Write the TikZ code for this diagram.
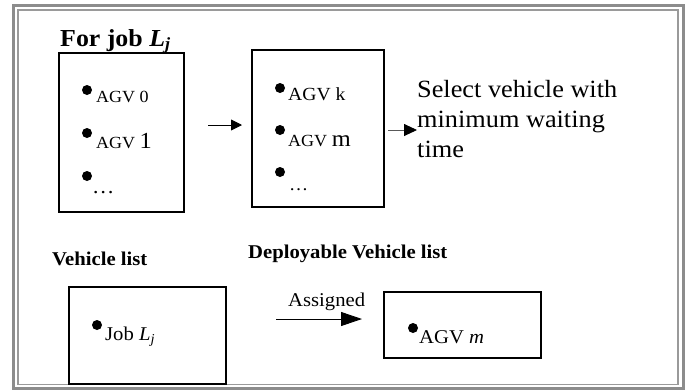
\documentclass[tikz,border=0pt]{standalone}
\usepackage{fontspec}
\setmainfont{Liberation Serif}[FakeStretch=1.06]
\usetikzlibrary{arrows.meta}
\definecolor{frameouter}{HTML}{8C8C8C}
\definecolor{frameinner}{HTML}{9A9A9A}
\tikzset{
  listbox/.style={draw=black, line width=2pt, inner sep=0pt, fill=none},
  txt/.style={inner sep=0pt, anchor=base west},
  head/.style={font=\fontsize{24.4}{27}\selectfont\bfseries},
  sub/.style={font=\fontsize{19.5}{21}\selectfont\bfseries},
  item/.style={font=\fontsize{17}{18}\selectfont},
  itemb/.style={font=\fontsize{19.5}{21}\selectfont},
  dot/.style={fill=black},
  arr/.style={line width=0.9pt, -{Triangle[length=11pt,width=11pt]}},
}
\begin{document}
\begin{tikzpicture}[x=1pt,y=-1pt]
\useasboundingbox (0,0) rectangle (690,389);
% frame
\draw[frameouter, line width=3pt] (13.5,5.5) rectangle (683.5,388);
\draw[frameinner, line width=1.8pt] (18.3,10.3) rectangle (677.7,384.5);
% boxes
\node[listbox, minimum width=125pt, minimum height=159pt] (b1) at (121.5,132.5) {};
\node[listbox, minimum width=132pt, minimum height=157pt] (b2) at (318,128.5) {};
\node[listbox, minimum width=157pt, minimum height=97pt] (b3) at (147.5,335.5) {};
\node[listbox, minimum width=157pt, minimum height=66pt] (b4) at (462.5,325) {};
% headings
\node[txt, head] (h1) at (60,46) {For job \textit{L\textsubscript{j}}};
\node[txt, sub] (h2) at (52,265) {Vehicle list};
\node[txt, sub] (h3) at (248,258) {Deployable Vehicle list};
% box 1 items
\fill[dot] (87,90) circle (5pt);
\node[txt, item] (i10) at (96,102) {AGV 0};
\fill[dot] (87,133) circle (5pt);
\node[txt, item] (i11) at (96,148) {AGV {\fontsize{23}{24}\selectfont 1}};
\fill[dot] (87,176) circle (5pt);
\node[txt, item, font=\fontsize{21}{24}\selectfont] (i12) at (92,193) {…};
% box 2 items
\fill[dot] (280,88) circle (5pt);
\node[txt, item, font=\fontsize{18.5}{20}\selectfont] (i20) at (288,100) {AGV k};
\fill[dot] (280,130) circle (5pt);
\node[txt, item] (i21) at (288,146) {AGV {\fontsize{23}{24}\selectfont m}};
\fill[dot] (280,172) circle (5pt);
\node[txt, item, font=\fontsize{18}{20}\selectfont] (i22) at (289,190) {…};
% select text (base anchor = last line)
\node[txt, font=\fontsize{24.8}{30}\selectfont, align=left] (sel) at (417,157)
  {Select vehicle with\\minimum waiting\\time};
% box 3/4 items
\fill[dot] (97,325) circle (5pt);
\node[txt, itemb] (j1) at (105,340) {Job \textit{L\textsubscript{j}}};
\fill[dot] (413,328) circle (5pt);
\node[txt, itemb] (a1) at (419,343) {AGV \textit{m}};
% arrows
\draw[arr, shorten <=23pt, shorten >=9pt] ([yshift=7.5pt]b1.east) -- ([yshift=7.5pt]b1.east -| b2.west);
\draw[line width=0.9pt, -{Triangle[length=13pt,width=12pt,color=black]}, draw=black!65, shorten <=3pt]
  ([yshift=-1.5pt]b2.east) -- ([yshift=-1.5pt]b2.east -| sel.west);
\draw[line width=0.9pt, -{Triangle[length=21pt,width=14pt]}, shorten <=49pt, shorten >=21pt]
  ([yshift=16.5pt]b3.east) -- ([yshift=16.5pt]b3.east -| b4.west);
\node[txt, itemb] (as) at (288,306) {Assigned};
\end{tikzpicture}
\end{document}
